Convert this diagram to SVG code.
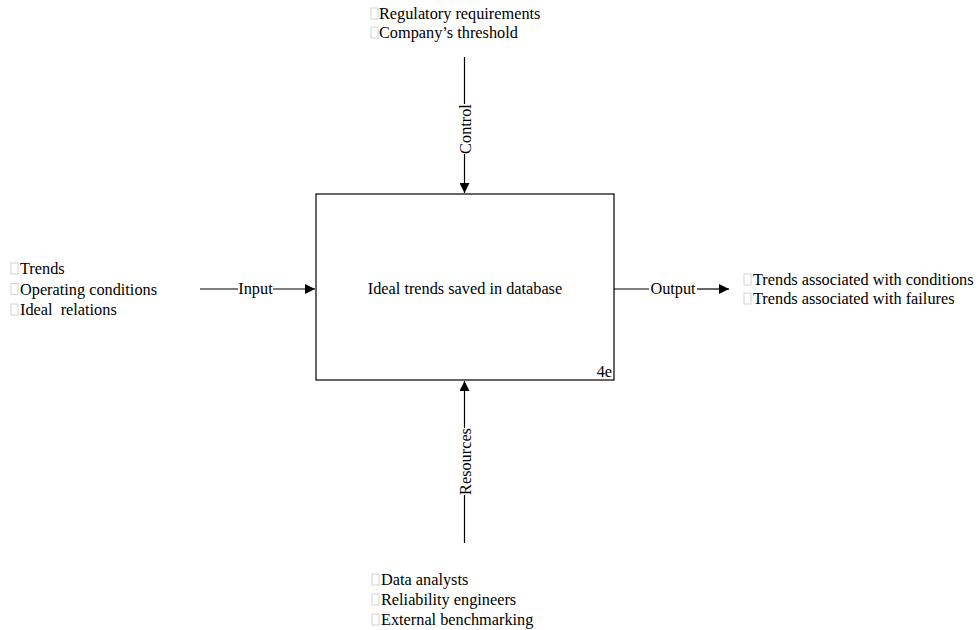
<svg xmlns="http://www.w3.org/2000/svg" width="980" height="630" viewBox="0 0 980 630">
  <style>
    text { font-family: "Liberation Serif", "Times New Roman", serif; font-size: 16.3px; fill: #000; white-space: pre; }
    .bul { fill: none; stroke: #c8c8c8; stroke-width: 0.8; }
    .ln { stroke: #000; stroke-width: 1.2; fill: none; }
    .lbl { dominant-baseline: central; }
  </style>
  <defs>
    <marker id="arrow" viewBox="0 0 10 10" refX="10" refY="5" markerWidth="10" markerHeight="10" markerUnits="userSpaceOnUse" orient="auto">
      <path d="M0,0 L10,5 L0,10 z" fill="#000"/>
    </marker>
  </defs>

  <rect width="980" height="630" fill="#fff"/>

  <!-- activity box -->
  <g id="activity">
    <rect x="316" y="194" width="298" height="186" fill="#fff" stroke="#000" stroke-width="1.2"/>
    <text x="465" y="288" text-anchor="middle" class="lbl">Ideal trends saved in database</text>
    <text x="612" y="371" text-anchor="end" class="lbl">4e</text>
  </g>

  <!-- ICOM connectors -->
  <g id="connectors">
    <!-- control -->
    <line class="ln" x1="464.5" y1="57" x2="464.5" y2="104"/>
    <line class="ln" x1="464.5" y1="154" x2="464.5" y2="193" marker-end="url(#arrow)"/>
    <text transform="translate(465.5,129) rotate(-90)" text-anchor="middle" class="lbl">Control</text>
    <!-- resources -->
    <line class="ln" x1="464.5" y1="543" x2="464.5" y2="495"/>
    <line class="ln" x1="464.5" y1="428" x2="464.5" y2="381" marker-end="url(#arrow)"/>
    <text transform="translate(465.5,461.5) rotate(-90)" text-anchor="middle" class="lbl">Resources</text>
    <!-- input -->
    <line class="ln" x1="200" y1="289" x2="238" y2="289"/>
    <line class="ln" x1="273" y1="289" x2="315" y2="289" marker-end="url(#arrow)"/>
    <text x="255.5" y="288" text-anchor="middle" class="lbl">Input</text>
    <!-- output -->
    <line class="ln" x1="614" y1="289" x2="649" y2="289"/>
    <line class="ln" x1="697" y1="289" x2="729" y2="289" marker-end="url(#arrow)"/>
    <text x="673" y="288" text-anchor="middle" class="lbl">Output</text>
  </g>

  <!-- control list -->
  <g id="controls">
    <rect class="bul" x="371" y="8" width="7" height="11"/>
    <text x="379" y="13.5" class="lbl">Regulatory requirements</text>
    <rect class="bul" x="371" y="27" width="7" height="11"/>
    <text x="379" y="32.5" class="lbl">Company’s threshold</text>
  </g>

  <!-- input list -->
  <g id="inputs">
    <rect class="bul" x="11" y="263" width="7" height="11"/>
    <text x="20" y="268.5" class="lbl">Trends</text>
    <rect class="bul" x="11" y="283.5" width="7" height="11"/>
    <text x="20" y="289" class="lbl">Operating conditions</text>
    <rect class="bul" x="11" y="304" width="7" height="11"/>
    <text x="20" y="309.5" class="lbl" xml:space="preserve">Ideal  relations</text>
  </g>

  <!-- output list -->
  <g id="outputs">
    <rect class="bul" x="744" y="274" width="7" height="11"/>
    <text x="753" y="279.5" class="lbl">Trends associated with conditions</text>
    <rect class="bul" x="744" y="293" width="7" height="11"/>
    <text x="753" y="298.5" class="lbl">Trends associated with failures</text>
  </g>

  <!-- resource list -->
  <g id="resources">
    <rect class="bul" x="372" y="574" width="7" height="11"/>
    <text x="381" y="579.5" class="lbl">Data analysts</text>
    <rect class="bul" x="372" y="594" width="7" height="11"/>
    <text x="381" y="599.5" class="lbl">Reliability engineers</text>
    <rect class="bul" x="372" y="614" width="7" height="11"/>
    <text x="381" y="619.5" class="lbl">External benchmarking</text>
  </g>
</svg>
